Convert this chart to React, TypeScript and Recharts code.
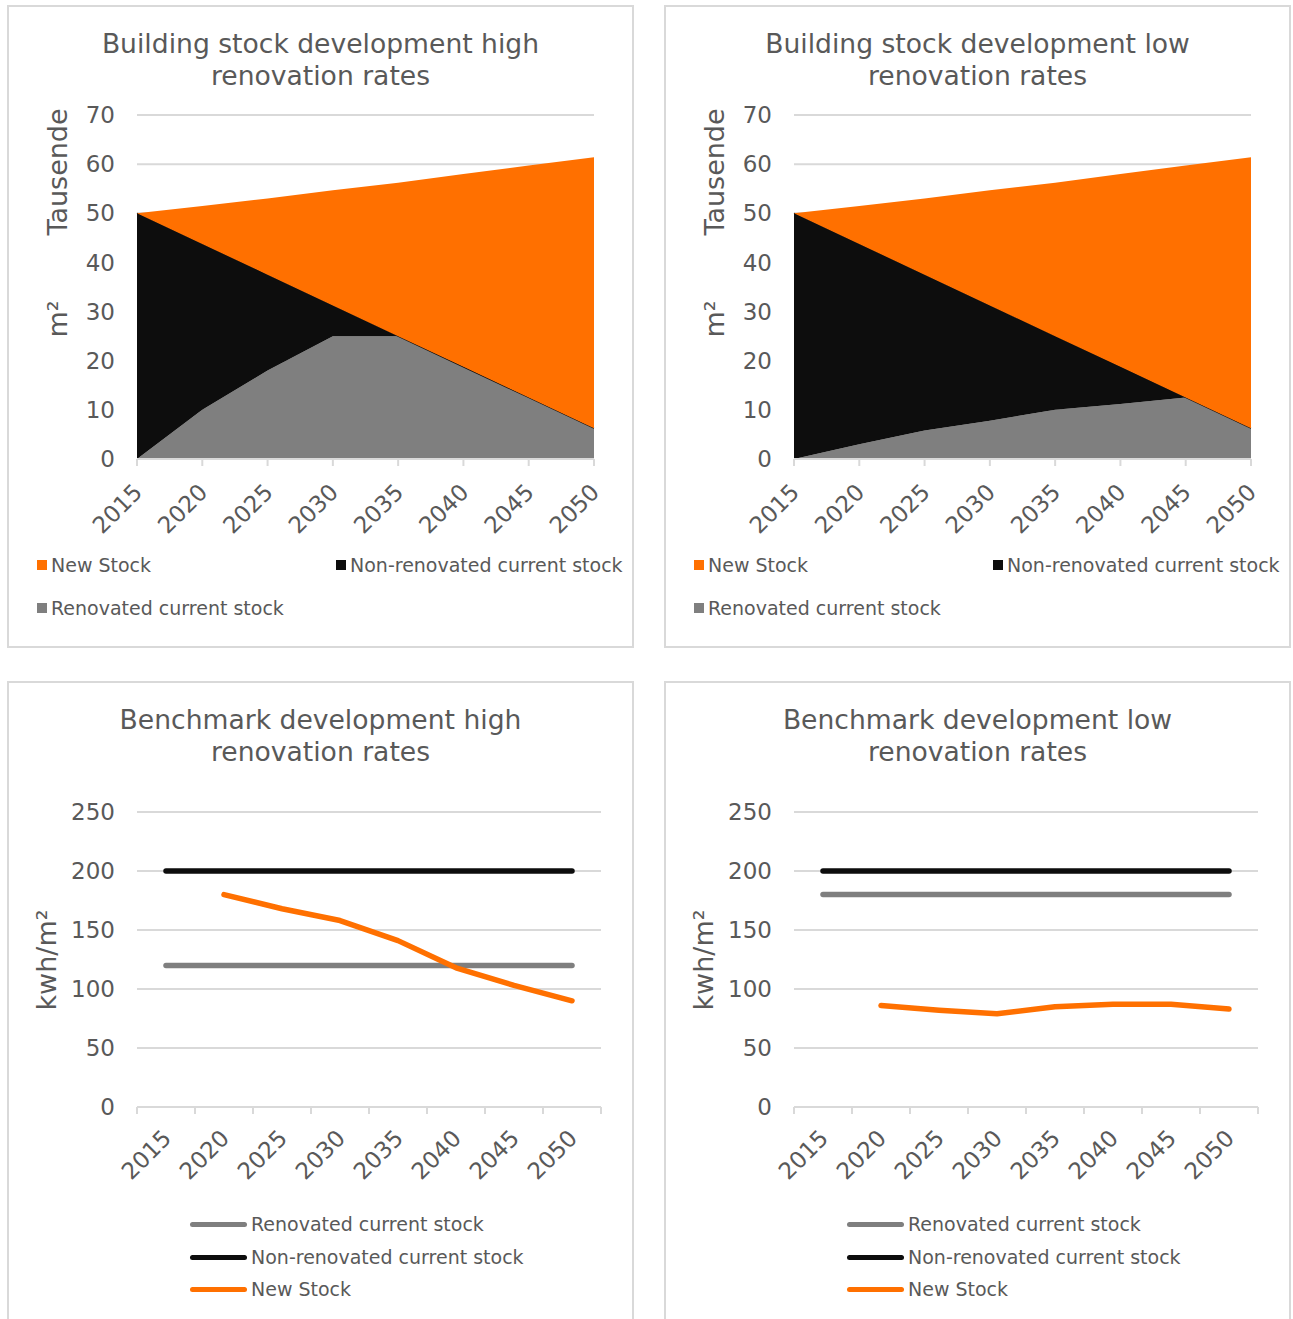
import React from 'react';
import { AreaChart, Area, LineChart, Line, XAxis, YAxis, CartesianGrid } from 'recharts';

// ---- data -------------------------------------------------------------
const years = ['2015', '2020', '2025', '2030', '2035', '2040', '2045', '2050'];

// building stock, thousands of m²
const stockHighRenovated = [0, 10, 18, 25, 25, 18.75, 12.5, 6.25];
const stockHighNonRenovated = [50, 33.75, 19.5, 6.25, 0, 0, 0, 0];
const stockHighNew = [0, 7.75, 15.5, 23.45, 31.2, 39.25, 47.2, 55.15];

const stockLowRenovated = [0, 3, 5.8, 7.8, 10, 11.2, 12.5, 6.25];
const stockLowNonRenovated = [50, 40.75, 31.7, 23.45, 15, 7.55, 0, 0];
const stockLowNew = [0, 7.75, 15.5, 23.45, 31.2, 39.25, 47.2, 55.15];

const stockTicks = [0, 10, 20, 30, 40, 50, 60, 70];

// benchmarks, kwh/m²
const benchHighRenovated = [120, 120, 120, 120, 120, 120, 120, 120];
const benchHighNonRenovated = [200, 200, 200, 200, 200, 200, 200, 200];
const benchHighNew = [null, 180, 168, 158, 141, 118, 103, 90];

const benchLowRenovated = [180, 180, 180, 180, 180, 180, 180, 180];
const benchLowNonRenovated = [200, 200, 200, 200, 200, 200, 200, 200];
const benchLowNew = [null, 86, 82, 79, 85, 87, 87, 83];

const benchTicks = [0, 50, 100, 150, 200, 250];

// ---- styling ----------------------------------------------------------
const ORANGE = '#ff7000';
const BLACK = '#0d0d0d';
const GRAY = '#7f7f7f';
const GRID = '#d9d9d9';
const TEXT = '#595959';
const FONT = "'DejaVu Sans', Verdana, sans-serif";

const TICK_SIZE = 23;
const LEGEND_SIZE = 19;

const PANEL_W = 627;
const PANEL_H = 643;
const INNER_W = PANEL_W - 4;
const INNER_H = PANEL_H - 4;

const stockData = (ren: number[], non: number[], nw: number[]) =>
  years.map((year, i) => ({ year, renovated: ren[i], nonRenovated: non[i], newStock: nw[i] }));

const benchData = (ren: number[], non: (number | null)[], nw: (number | null)[]) =>
  years.map((year, i) => ({ year, renovated: ren[i], nonRenovated: non[i], newStock: nw[i] }));

const Panel = ({ left, top, children }: { left: number; top: number; children: React.ReactNode }) => (
  <div
    style={{
      position: 'absolute',
      left,
      top,
      width: PANEL_W,
      height: PANEL_H,
      border: `2px solid ${GRID}`,
      boxSizing: 'border-box',
      background: '#fff',
      overflow: 'hidden',
      fontFamily: FONT,
      color: TEXT,
    }}
  >
    {children}
  </div>
);

const Title = ({ lines }: { lines: string[] }) => (
  <div
    style={{
      position: 'absolute',
      left: 0,
      top: 21,
      width: '100%',
      textAlign: 'center',
      fontSize: 26.6,
      lineHeight: '32px',
    }}
  >
    {lines.map((l) => (
      <div key={l}>{l}</div>
    ))}
  </div>
);

const VText = ({ cx, cy, text, size = 27 }: { cx: number; cy: number; text: string; size?: number }) => (
  <div
    style={{
      position: 'absolute',
      left: cx,
      top: cy,
      transform: 'translate(-50%, -50%) rotate(-90deg)',
      whiteSpace: 'nowrap',
      fontSize: size,
      lineHeight: 1,
    }}
  >
    {text}
  </div>
);

const SquareItem = ({ left, cy, color, label }: { left: number; cy: number; color: string; label: string }) => (
  <div style={{ position: 'absolute', left, top: cy - 12, height: 24, display: 'flex', alignItems: 'center', fontSize: LEGEND_SIZE, whiteSpace: 'nowrap' }}>
    <span style={{ display: 'inline-block', width: 10, height: 10, background: color, marginRight: 4 }} />
    {label}
  </div>
);

const LineItem = ({ left, cy, color, label }: { left: number; cy: number; color: string; label: string }) => (
  <div style={{ position: 'absolute', left, top: cy - 12, height: 24, display: 'flex', alignItems: 'center', fontSize: LEGEND_SIZE, whiteSpace: 'nowrap' }}>
    <span style={{ display: 'inline-block', width: 57, height: 5, borderRadius: 3, background: color, marginRight: 4 }} />
    {label}
  </div>
);

const tickText = (x: number, y: number, value: string) => (
  <text
    x={x}
    y={y}
    dy="0.35em"
    textAnchor="end"
    transform={`rotate(-45 ${x} ${y})`}
    fill={TEXT}
    fontSize={TICK_SIZE}
    fontFamily={FONT}
  >
    {value}
  </text>
);

// tick mark on each point, label hanging below it
const StockTick = (props: any) => {
  const { x, y, payload } = props;
  return (
    <g>
      <line x1={x} x2={x} y1={y} y2={y + 7} stroke={GRID} strokeWidth={2} />
      {tickText(x + 1, y + 29, payload.value)}
    </g>
  );
};

// category axis: tick marks between categories, label at category centre
const BAND = 58;
const BenchTick = (props: any) => {
  const { x, y, payload, index, visibleTicksCount } = props;
  const last = index === visibleTicksCount - 1;
  return (
    <g>
      <line x1={x - BAND / 2} x2={x - BAND / 2} y1={y} y2={y + 7} stroke={GRID} strokeWidth={2} />
      {last && <line x1={x + BAND / 2} x2={x + BAND / 2} y1={y} y2={y + 7} stroke={GRID} strokeWidth={2} />}
      {tickText(x + 1, y + 27, payload.value)}
    </g>
  );
};

const yTick = { fill: TEXT, fontSize: TICK_SIZE, fontFamily: FONT };

const StockPanel = ({ left, top, title, data }: { left: number; top: number; title: string[]; data: any[] }) => (
  <Panel left={left} top={top}>
    <Title lines={title} />
    <div style={{ position: 'absolute', left: 0, top: 0 }}>
      <AreaChart width={INNER_W} height={INNER_H} data={data} margin={{ top: 108, right: 38, left: 0, bottom: 127 }}>
        <CartesianGrid vertical={false} stroke={GRID} strokeWidth={2} />
        <XAxis
          dataKey="year"
          height={60}
          interval={0}
          axisLine={{ stroke: GRID, strokeWidth: 2 }}
          tickLine={false}
          tickSize={0}
          tickMargin={0}
          tick={<StockTick />}
        />
        <YAxis
          width={128}
          domain={[0, 70]}
          ticks={stockTicks}
          axisLine={false}
          tickLine={false}
          tickSize={0}
          tickMargin={22}
          tick={yTick}
        />
        <Area dataKey="renovated" stackId="s" type="linear" fill={GRAY} fillOpacity={1} stroke="none" isAnimationActive={false} />
        <Area dataKey="nonRenovated" stackId="s" type="linear" fill={BLACK} fillOpacity={1} stroke={BLACK} strokeWidth={1.2} isAnimationActive={false} />
        <Area dataKey="newStock" stackId="s" type="linear" fill={ORANGE} fillOpacity={1} stroke="none" isAnimationActive={false} />
      </AreaChart>
    </div>
    <VText cx={48} cy={165} text="Tausende" />
    <VText cx={48} cy={312} text="m²" />
    <SquareItem left={28} cy={558} color={ORANGE} label="New Stock" />
    <SquareItem left={327} cy={558} color={BLACK} label="Non-renovated current stock" />
    <SquareItem left={28} cy={601} color={GRAY} label="Renovated current stock" />
  </Panel>
);

const BenchPanel = ({ left, top, title, data }: { left: number; top: number; title: string[]; data: any[] }) => (
  <Panel left={left} top={top}>
    <Title lines={title} />
    <div style={{ position: 'absolute', left: 0, top: 0 }}>
      <LineChart width={INNER_W} height={INNER_H} data={data} margin={{ top: 129, right: 31, left: 0, bottom: 155 }}>
        <CartesianGrid vertical={false} stroke={GRID} strokeWidth={2} />
        <XAxis
          dataKey="year"
          height={60}
          interval={0}
          padding={{ left: BAND / 2, right: BAND / 2 }}
          axisLine={{ stroke: GRID, strokeWidth: 2 }}
          tickLine={false}
          tickSize={0}
          tickMargin={0}
          tick={<BenchTick />}
        />
        <YAxis
          width={128}
          domain={[0, 250]}
          ticks={benchTicks}
          axisLine={false}
          tickLine={false}
          tickSize={0}
          tickMargin={22}
          tick={yTick}
        />
        <Line dataKey="renovated" type="linear" stroke={GRAY} strokeWidth={5.5} strokeLinecap="round" dot={false} isAnimationActive={false} />
        <Line dataKey="nonRenovated" type="linear" stroke={BLACK} strokeWidth={5.5} strokeLinecap="round" dot={false} isAnimationActive={false} />
        <Line dataKey="newStock" type="linear" stroke={ORANGE} strokeWidth={5.5} strokeLinecap="round" strokeLinejoin="round" dot={false} isAnimationActive={false} />
      </LineChart>
    </div>
    <VText cx={37} cy={277} text="kwh/m²" />
    <LineItem left={181} cy={541} color={GRAY} label="Renovated current stock" />
    <LineItem left={181} cy={574} color={BLACK} label="Non-renovated current stock" />
    <LineItem left={181} cy={606} color={ORANGE} label="New Stock" />
  </Panel>
);

export default function App() {
  return (
    <div style={{ position: 'absolute', left: 0, top: 0, width: 1293, height: 1319, background: '#fff' }}>
      <StockPanel
        left={7}
        top={5}
        title={['Building stock development high', 'renovation rates']}
        data={stockData(stockHighRenovated, stockHighNonRenovated, stockHighNew)}
      />
      <StockPanel
        left={664}
        top={5}
        title={['Building stock development low', 'renovation rates']}
        data={stockData(stockLowRenovated, stockLowNonRenovated, stockLowNew)}
      />
      <BenchPanel
        left={7}
        top={681}
        title={['Benchmark development high', 'renovation rates']}
        data={benchData(benchHighRenovated, benchHighNonRenovated, benchHighNew)}
      />
      <BenchPanel
        left={664}
        top={681}
        title={['Benchmark development low', 'renovation rates']}
        data={benchData(benchLowRenovated, benchLowNonRenovated, benchLowNew)}
      />
    </div>
  );
}
